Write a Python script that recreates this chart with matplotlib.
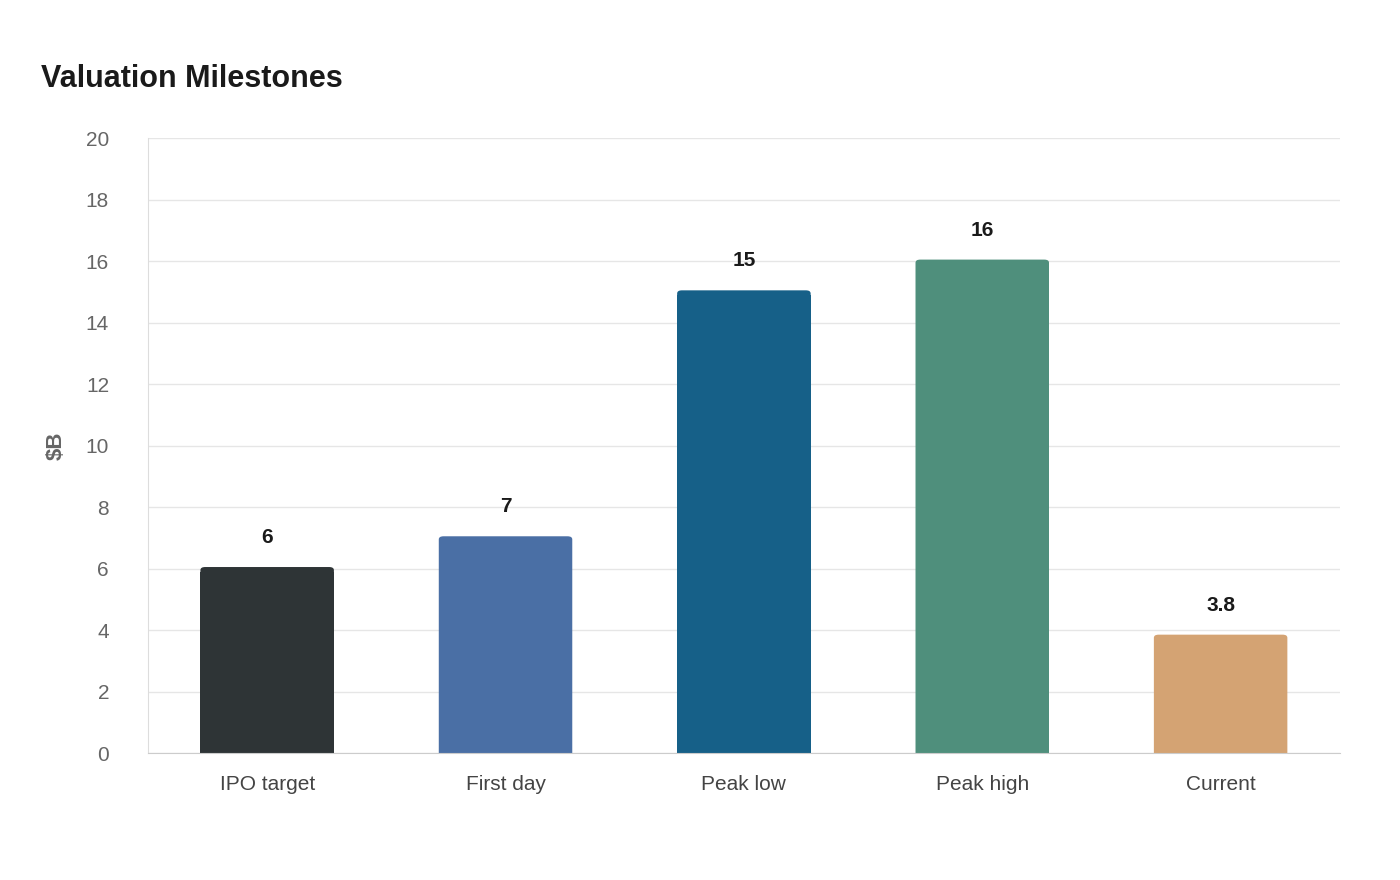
import matplotlib
matplotlib.use("Agg")
import matplotlib.pyplot as plt
from matplotlib.patches import FancyBboxPatch

categories = ["IPO target", "First day", "Peak low", "Peak high", "Current"]
values = [6, 7, 15, 16, 3.8]
labels = ["6", "7", "15", "16", "3.8"]
colors = ["#2e3436", "#4a6fa5", "#166088", "#4f8f7c", "#d4a373"]

plt.rcParams["font.family"] = ["Liberation Sans", "DejaVu Sans"]

fig = plt.figure(figsize=(14, 8.8), dpi=100)
ax = fig.add_axes([0.1057, 0.1443, 0.8513, 0.6987])

width = 0.56
for i, (v, c) in enumerate(zip(values, colors)):
    # bar with slightly rounded top corners
    ax.bar(i, v - 0.1, width=width, color=c, zorder=2)
    ax.add_patch(FancyBboxPatch((i - width / 2 + 0.02, 0), width - 0.04, v - 0.05,
                                boxstyle="round,pad=0.02,rounding_size=0.02",
                                mutation_aspect=5, color=c, zorder=2, lw=0))
    ax.text(i, v + 0.7, labels[i], ha="center", va="bottom",
            fontsize=15, fontweight="bold", color="#1a1a1a")

ax.set_xlim(-0.5, len(categories) - 0.5)
ax.set_ylim(0, 20)
ax.set_yticks(range(0, 21, 2))
ax.set_xticks(range(len(categories)))
ax.set_xticklabels(categories)
ax.tick_params(axis="x", length=0, pad=16, labelsize=15, labelcolor="#444444")
ax.tick_params(axis="y", length=0, pad=28, labelsize=15, labelcolor="#666666")
ax.grid(axis="y", color="#e6e6e6", lw=1, zorder=0)
for s in ["top", "right"]:
    ax.spines[s].set_visible(False)
ax.spines["left"].set_color("#dddddd")
ax.spines["bottom"].set_color("#cccccc")
ax.set_ylabel("$B", fontsize=16, fontweight="bold", color="#666666", labelpad=14)

fig.text(0.029, 0.91, "Valuation Milestones", fontsize=22, fontweight="bold",
         color="#1a1a1a", ha="left", va="center")

fig.savefig("out.png", dpi=100, facecolor="white")
